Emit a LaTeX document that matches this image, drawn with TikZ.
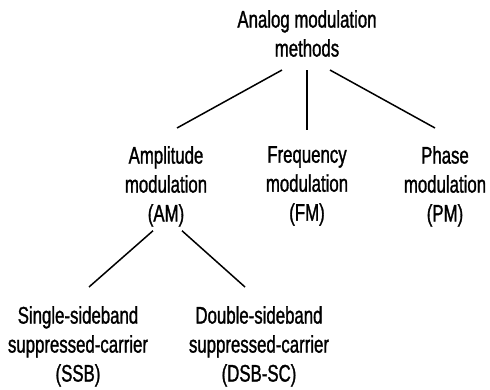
\documentclass[tikz,border=0pt]{standalone}
\usepackage{fontspec}
\setmainfont[FakeStretch=0.7,FakeBold=1.2]{Liberation Sans}

\begin{document}
\begin{tikzpicture}[
  x=1pt,
  y=-1pt,
  font=\fontsize{24}{29}\selectfont,
  term/.style={
    align=center,
    inner sep=0pt,
    anchor=north
  },
  link/.style={line width=1.5pt}
]
\useasboundingbox (0,0) rectangle (490,390);

\node[term] (analog) at (307,10) {Analog modulation\\methods};
\node[term] (am) at (166,146) {Amplitude\\modulation\\(AM)};
\node[term] (fm) at (307,146) {Frequency\\modulation\\(FM)};
\node[term] (pm) at (445,146) {Phase\\modulation\\(PM)};
\node[term] (ssb) at (78,306) {Single-sideband\\suppressed-carrier\\(SSB)};
\node[term] (dsb) at (259,306) {Double-sideband\\suppressed-carrier\\(DSB-SC)};

\draw[link] ([xshift=-25pt,yshift=-13pt]analog.south) -- ([xshift=11pt,yshift=18pt]am.north);
\draw[link] ([yshift=-13pt]analog.south) -- ([yshift=16pt]fm.north);
\draw[link] ([xshift=23pt,yshift=-13pt]analog.south) -- ([xshift=-10pt,yshift=18pt]pm.north);
\draw[link] ([xshift=-13pt,yshift=-4pt]am.south) -- ([xshift=11pt,yshift=19pt]ssb.north);
\draw[link] ([xshift=16pt,yshift=-4pt]am.south) -- ([xshift=-14pt,yshift=19pt]dsb.north);

\end{tikzpicture}
\end{document}
